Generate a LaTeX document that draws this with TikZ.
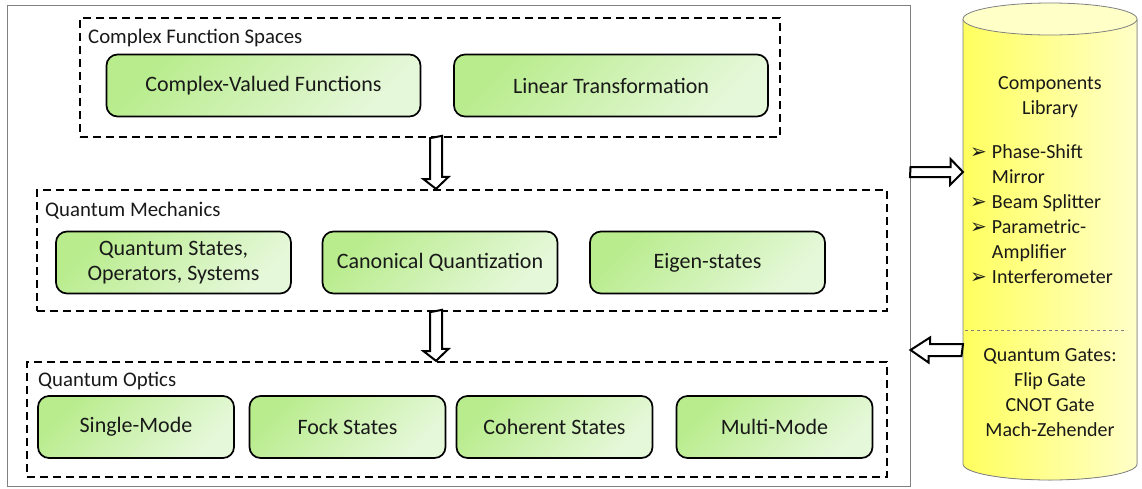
\documentclass[tikz,border=0pt]{standalone}
\usepackage{fontspec}
\setmainfont{Carlito}
\newfontfamily\symfont{DejaVu Sans}
\usetikzlibrary{calc}
\definecolor{gruenA}{RGB}{184,236,140}
\definecolor{gruenB}{RGB}{230,248,218}
\definecolor{gelbA}{RGB}{255,255,95}
\definecolor{gelbB}{RGB}{255,255,200}
\definecolor{schrift}{RGB}{25,25,25}
\newcommand{\pfeil}{{\symfont\fontsize{20}{20}\selectfont ➢}\hspace{5pt}}

\begin{document}
\begin{tikzpicture}[x=1pt, y=1pt, font=\fontsize{20}{25}\selectfont, text=schrift,
        kasten/.style={draw, rectangle, rounded corners=11pt, line width=1.7pt, left color=gruenA, right color=gruenB, shading angle=45, align=center, minimum height=62pt, font=\fontsize{22}{24.5}\selectfont},
        gruppe/.style={draw, rectangle, line width=2.3pt, dash pattern=on 8pt off 5pt},
        titel/.style={anchor=west, inner sep=0pt, font=\fontsize{20.8}{25}\selectfont},
        hohl/.style={draw=black, line width=2pt, fill=white, line join=miter}]
        \useasboundingbox (0,0) rectangle (1142,-488);

        \node[draw=gray, line width=1pt, minimum width=903pt, minimum height=481pt] (F) at (458.5,-245.5) {};

        \node[gruppe, minimum width=700pt, minimum height=119pt] (CFS) at (430,-77.5) {};
        \node[titel] (CFSt) at (88,-38) {Complex Function Spaces};
        \node[kasten, minimum width=314pt] (CVF) at (263.5,-85.5) {Complex-Valued Functions};
        \node[kasten, minimum width=314pt] (LT) at (611,-85.5) {Linear Transformation};

        \node[gruppe, minimum width=850pt, minimum height=121pt] (QM) at (462,-250.5) {};
        \node[titel] (QMt) at (45,-211) {Quantum Mechanics};
        \node[kasten, minimum width=235pt] (QS) at (173.5,-262.5) {Quantum States,\\Operators, Systems};
        \node[kasten, minimum width=235pt] (CQ) at (440,-262.5) {Canonical Quantization};
        \node[kasten, minimum width=235pt] (ES) at (707.5,-262.5) {Eigen-states};

        \node[gruppe, minimum width=860pt, minimum height=115pt] (QO) at (457,-419.5) {};
        \node[titel] (QOt) at (38,-381) {Quantum Optics};
        \node[kasten, minimum width=196pt] (SM) at (136,-427) {Single-Mode};
        \node[kasten, minimum width=196pt] (FS) at (347.5,-427) {Fock States};
        \node[kasten, minimum width=196pt] (CS) at (554.5,-427) {Coherent States};
        \node[kasten, minimum width=196pt] (MM) at (774.5,-427) {Multi-Mode};

        \fill[left color=gelbA, right color=gelbB] (963,-19) -- (963,-464) arc[start angle=180, end angle=360, x radius=87, y radius=16] -- (1137,-19) -- cycle;
        \draw[gray, line width=0.8pt] (963,-19) -- (963,-464) arc[start angle=180, end angle=360, x radius=87, y radius=16] -- (1137,-19);
        \filldraw[fill=gelbB, draw=gray, line width=0.8pt] (1050,-19) ellipse[x radius=87, y radius=16];
        \draw[gray, dashed, line width=0.6pt] (965,-330) -- (1127,-330);
        \coordinate (LIBin) at (963,-172);
        \coordinate (LIBout) at (963,-350);

        \node[align=center] (LIB) at (1050,-97) {Components\\Library};
        \node[align=left, anchor=north west, inner sep=0pt] (KOMP) at (970,-144) {\pfeil Phase-Shift\\\hphantom{\pfeil}Mirror\\\pfeil Beam Splitter\\\pfeil Parametric-\\\hphantom{\pfeil}Amplifier\\\pfeil Interferometer};
        \node[align=center] (QG) at (1050,-393) {Quantum Gates:\\Flip Gate\\CNOT Gate\\Mach-Zehender};

        \path (CFS.south) ++(6,0) coordinate (A1);
        \path (QM.north) ++(-26,0) coordinate (B1);
        \path (QM.south) ++(-26,0) coordinate (A2);
        \path (QO.north) ++(-21,0) coordinate (B2);

        \draw[hohl] (A1) ++(-6,0) -- ++(0,-41) -- ++(-6.5,0) -- (B1) -- ++(12.5,12) -- ++(-6.5,0) -- ++(0,41) -- cycle;
        \draw[hohl] (A2) ++(-6,0) -- ++(0,-39) -- ++(-6.5,0) -- (B2) -- ++(12.5,12) -- ++(-6.5,0) -- ++(0,39) -- cycle;
        \draw[hohl] (F.east |- LIBin) ++(0,5) -- ++(40,0) -- ++(0,8) -- (LIBin) -- ++(-13,-13) -- ++(0,8) -- ++(-40,0) -- cycle;
        \draw[hohl] (LIBout) ++(0,6) -- ++(-33,0) -- ++(0,6.5) -- (F.east |- LIBout) -- ++(18,-12.5) -- ++(0,6.5) -- ++(33,0) -- cycle;

    \end{tikzpicture}
\end{document}
